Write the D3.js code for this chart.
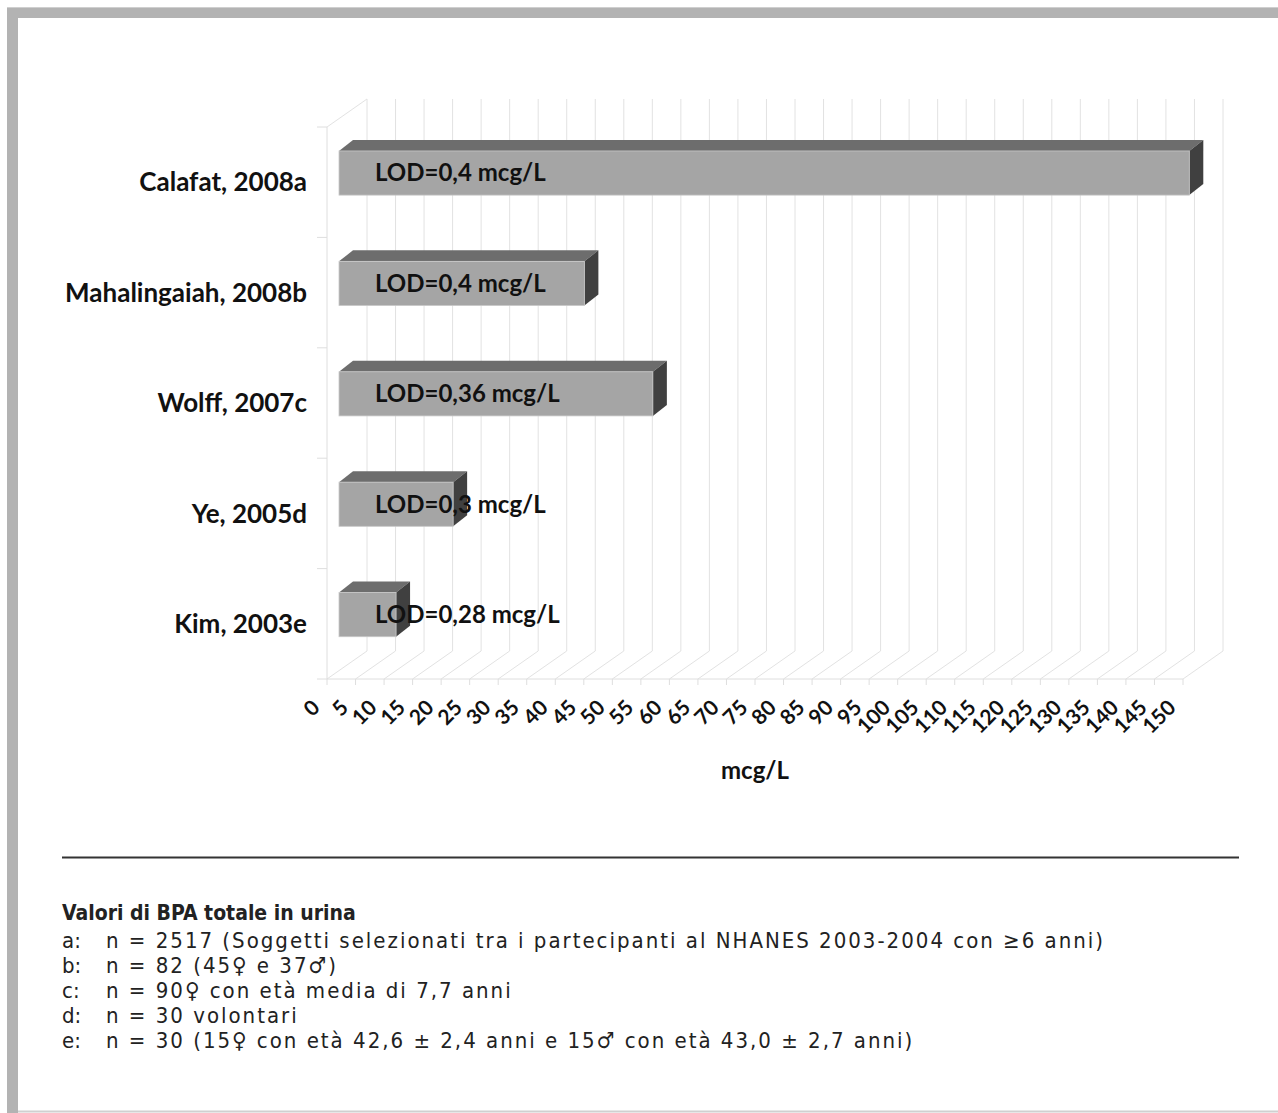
<!DOCTYPE html>
<html>
<head>
<meta charset="utf-8">
<script src="https://cdn.jsdelivr.net/npm/d3@7"></script>
<style>
  body { margin: 0; background: #fff; }
  svg { display: block; }
  .cat-label, .bar-label, .tick-label, .axis-title { font-family: Lato, "Open Sans", sans-serif; font-weight: 700; fill: #111; }
  .note { font-family: "DejaVu Sans Condensed", "Liberation Sans Narrow", "DejaVu Sans", sans-serif; fill: #222; }
</style>
</head>
<body>
<div id="chart"></div>
<script>
var W = 1278, H = 1113;

var categories = ["Calafat, 2008a", "Mahalingaiah, 2008b", "Wolff, 2007c", "Ye, 2005d", "Kim, 2003e"];
var values = [149, 43, 55, 20, 10];
var barLabels = ["LOD=0,4 mcg/L", "LOD=0,4 mcg/L", "LOD=0,36 mcg/L", "LOD=0,3 mcg/L", "LOD=0,28 mcg/L"];
var ticks = d3.range(0, 151, 5);
var axisTitle = "mcg/L";

var noteTitle = "Valori di BPA totale in urina";
var noteKeys = ["a:", "b:", "c:", "d:", "e:"];
var noteTexts = [
    "n = 2517 (Soggetti selezionati tra i partecipanti al NHANES 2003-2004 con \u22656 anni)",
    "n = 82 (45\u2640 e 37\u2642)",
    "n = 90\u2640 con et\u00e0 media di 7,7 anni",
    "n = 30 volontari",
    "n = 30 (15\u2640 con et\u00e0 42,6 \u00b1 2,4 anni e 15\u2642 con et\u00e0 43,0 \u00b1 2,7 anni)"
];

// 3d look: depth of the whole plot box and of each bar
var DEPTH_X = 40, DEPTH_Y = -28;
var BAR_SHIFT = 12;            // bar front face sits a bit behind the front plane
var BAR_DX = 14, BAR_DY = -11; // bar thickness

var svg = d3.select("#chart").append("svg")
    .attr("width", W)
    .attr("height", H);

// page frame
svg.append("rect").attr("x", 7).attr("y", 7).attr("width", W - 7).attr("height", 11).attr("fill", "#b3b3b3");
svg.append("rect").attr("x", 7).attr("y", 7).attr("width", 11).attr("height", H - 7).attr("fill", "#b3b3b3");
svg.append("line").attr("x1", 7).attr("x2", W).attr("y1", 7.5).attr("y2", 7.5).attr("stroke", "#cfcfcf");
svg.append("line").attr("x1", 18).attr("x2", W).attr("y1", 1111.5).attr("y2", 1111.5).attr("stroke", "#d0d0d0").attr("stroke-width", 2);

var x = d3.scaleLinear().domain([0, 150]).range([327, 1183]);
var y = d3.scaleBand().domain(categories).range([127, 679]);
var floorY = y.range()[1], topY = y.range()[0];

var plot = svg.append("g");

// back wall grid
plot.selectAll(".grid")
    .data(ticks)
    .enter().append("line")
    .attr("class", "grid")
    .attr("x1", function (d) { return x(d) + DEPTH_X; })
    .attr("x2", function (d) { return x(d) + DEPTH_X; })
    .attr("y1", topY + DEPTH_Y)
    .attr("y2", floorY + DEPTH_Y)
    .attr("stroke", "#e2e2e2");

// floor
plot.selectAll(".floor")
    .data(ticks)
    .enter().append("line")
    .attr("class", "floor")
    .attr("x1", function (d) { return x(d); })
    .attr("x2", function (d) { return x(d) + DEPTH_X; })
    .attr("y1", floorY)
    .attr("y2", floorY + DEPTH_Y)
    .attr("stroke", "#e2e2e2");

plot.append("line")
    .attr("x1", x(0)).attr("x2", x(150))
    .attr("y1", floorY).attr("y2", floorY)
    .attr("stroke", "#dedede");

plot.selectAll(".xtick")
    .data(ticks)
    .enter().append("line")
    .attr("x1", function (d) { return x(d); })
    .attr("x2", function (d) { return x(d); })
    .attr("y1", floorY)
    .attr("y2", floorY + 6)
    .attr("stroke", "#dedede");

// side wall
plot.append("line")
    .attr("x1", x(0)).attr("x2", x(0))
    .attr("y1", topY).attr("y2", floorY)
    .attr("stroke", "#dedede");
plot.append("line")
    .attr("x1", x(0)).attr("x2", x(0) + DEPTH_X)
    .attr("y1", topY).attr("y2", topY + DEPTH_Y)
    .attr("stroke", "#e2e2e2");
plot.selectAll(".ytick")
    .data(categories.concat([null]))
    .enter().append("line")
    .attr("x1", x(0) - 10).attr("x2", x(0))
    .attr("y1", function (d) { return d === null ? floorY : y(d); })
    .attr("y2", function (d) { return d === null ? floorY : y(d); })
    .attr("stroke", "#dedede");

// bars
var bw = y.bandwidth();
var bars = plot.selectAll(".bar")
    .data(categories)
    .enter().append("g")
    .attr("class", "bar");

function barBox(d, i) {
    var x0 = x(0) + BAR_SHIFT, x1 = x(values[i]) + BAR_SHIFT;
    var y0 = y(d) + bw * 0.217, y1 = y0 + bw * 0.4;
    return { x0: x0, x1: x1, y0: y0, y1: y1 };
}

bars.append("polygon")
    .attr("points", function (d, i) {
        var b = barBox(d, i);
        return [[b.x0, b.y0], [b.x0 + BAR_DX, b.y0 + BAR_DY], [b.x1 + BAR_DX, b.y0 + BAR_DY], [b.x1, b.y0]].join(" ");
    })
    .attr("fill", "#6d6d6d");

bars.append("polygon")
    .attr("points", function (d, i) {
        var b = barBox(d, i);
        return [[b.x1, b.y0], [b.x1 + BAR_DX, b.y0 + BAR_DY], [b.x1 + BAR_DX, b.y1 + BAR_DY], [b.x1, b.y1]].join(" ");
    })
    .attr("fill", "#404040");

bars.append("rect")
    .attr("x", function (d, i) { return barBox(d, i).x0; })
    .attr("y", function (d, i) { return barBox(d, i).y0; })
    .attr("width", function (d, i) { var b = barBox(d, i); return b.x1 - b.x0; })
    .attr("height", function (d, i) { var b = barBox(d, i); return b.y1 - b.y0; })
    .attr("fill", "#a5a5a5")
    .attr("stroke", "#c8c8c8")
    .attr("stroke-width", 0.8);

bars.append("text")
    .attr("class", "bar-label")
    .attr("x", function (d, i) { return barBox(d, i).x0 + 36; })
    .attr("y", function (d, i) { var b = barBox(d, i); return (b.y0 + b.y1) / 2; })
    .attr("dy", "0.35em")
    .attr("font-size", "24px")
    .text(function (d, i) { return barLabels[i]; });

// category labels
svg.selectAll(".cat-label")
    .data(categories)
    .enter().append("text")
    .attr("class", "cat-label")
    .attr("x", 307)
    .attr("y", function (d) { return y(d) + bw / 2; })
    .attr("dy", "0.35em")
    .attr("text-anchor", "end")
    .attr("font-size", "26px")
    .text(function (d) { return d; });

// x tick labels
svg.selectAll(".tick-label")
    .data(ticks)
    .enter().append("text")
    .attr("class", "tick-label")
    .attr("text-anchor", "end")
    .attr("font-size", "21px")
    .attr("transform", function (d) {
        return "translate(" + (x(d) - 6) + "," + (floorY + 30) + ") rotate(-45)";
    })
    .text(function (d) { return d; });

svg.append("text")
    .attr("class", "axis-title")
    .attr("x", (x(0) + x(150)) / 2)
    .attr("y", 779)
    .attr("text-anchor", "middle")
    .attr("font-size", "24px")
    .text(axisTitle);

// notes
svg.append("line")
    .attr("x1", 62).attr("x2", 1239)
    .attr("y1", 857.5).attr("y2", 857.5)
    .attr("stroke", "#333").attr("stroke-width", 2);

svg.append("text")
    .attr("class", "note")
    .attr("x", 62).attr("y", 920)
    .attr("font-size", "21px")
    .attr("font-weight", 700)
    .text(noteTitle);

var notes = svg.selectAll(".note-row")
    .data(noteKeys)
    .enter().append("g")
    .attr("class", "note-row")
    .attr("transform", function (d, i) { return "translate(0," + (948 + i * 25) + ")"; });

notes.append("text")
    .attr("class", "note")
    .attr("x", 62)
    .attr("font-size", "22px")
    .text(function (d) { return d; });

var rows = notes.append("text")
    .attr("class", "note")
    .attr("x", 106)
    .attr("font-size", "22px")
    .text(function (d, i) { return noteTexts[i]; });

// spread the letters so the longest row reaches the same right edge as the original
var first = rows.node();
var natural = first.getComputedTextLength();
var spacing = Math.max(0, (999 - natural) / noteTexts[0].length);
rows.attr("letter-spacing", spacing + "px");
</script>
</body>
</html>
